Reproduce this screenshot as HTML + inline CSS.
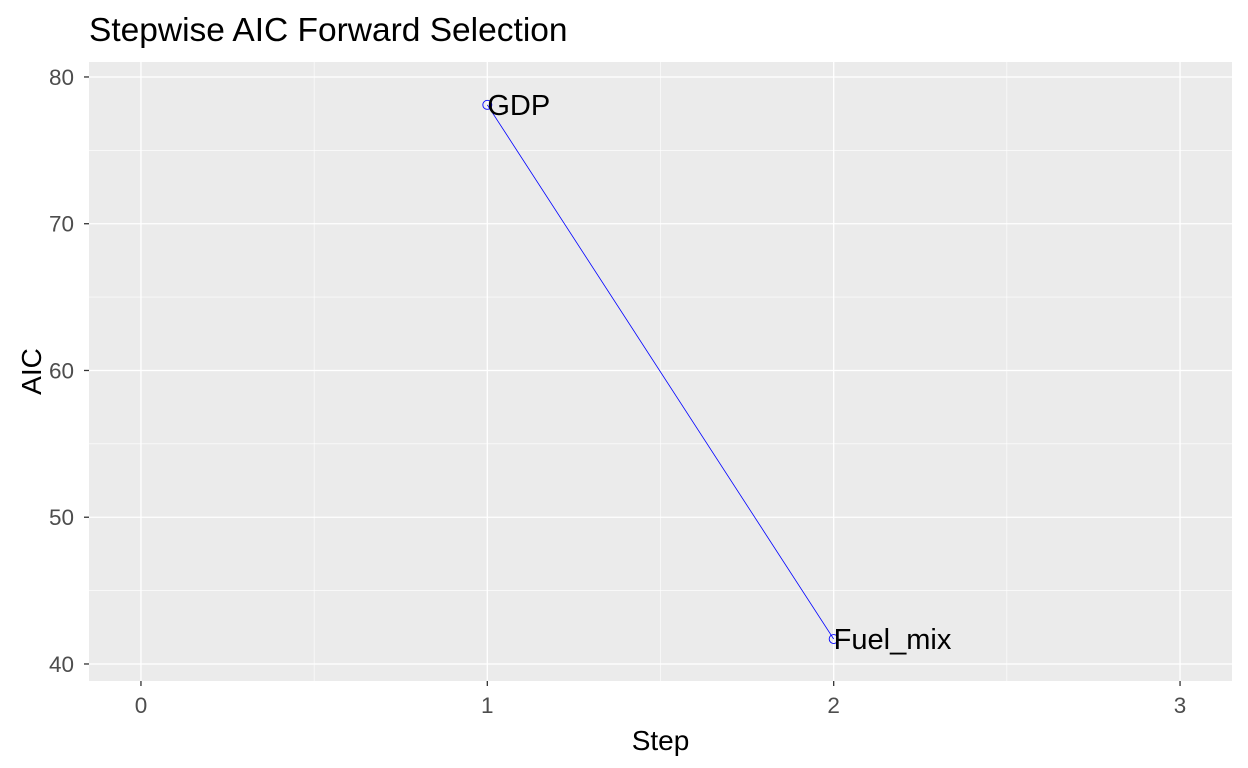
<!DOCTYPE html>
<html><head><meta charset="utf-8"><style>
html,body{margin:0;padding:0;background:#fff;}
svg{display:block;font-family:"Liberation Sans",Arial,sans-serif;}
</style></head><body>
<svg id="chart" width="1248" height="768"></svg>
<script>
const steps = [1, 2];
const aicValues = [78.1, 41.7];
const varLabels = ["GDP", "Fuel_mix"];
const xTicks = [0, 1, 2, 3];
const yTicks = [40, 50, 60, 70, 80];

const NS = "http://www.w3.org/2000/svg";
const svg = document.getElementById("chart");
const L = 89, R = 1232, T = 62, B = 681;
const xMin = -0.15, xMax = 3.15, yMin = 38.84, yMax = 81.02;
const xs = v => L + (v - xMin) / (xMax - xMin) * (R - L);
const ys = v => B - (v - yMin) / (yMax - yMin) * (B - T);
function el(tag, attrs, parent) {
  const e = document.createElementNS(NS, tag);
  for (const k in attrs) e.setAttribute(k, attrs[k]);
  (parent || svg).appendChild(e);
  return e;
}
const panel = el("rect", {x: L, y: T, width: R - L, height: B - T, fill: "#EBEBEB"});


for (let i = 0; i < xTicks.length - 1; i++) {
  const m = (xTicks[i] + xTicks[i + 1]) / 2;
  const g = el("line", {x1: xs(m), x2: xs(m), y1: T, y2: B, stroke: "#fff", "stroke-width": 0.6});
  
  
}
for (let i = 0; i < yTicks.length - 1; i++) {
  const m = (yTicks[i] + yTicks[i + 1]) / 2;
  const g = el("line", {x1: L, x2: R, y1: ys(m), y2: ys(m), stroke: "#fff", "stroke-width": 0.6});
  
  
}
xTicks.forEach(v => {
  const g = el("line", {x1: xs(v), x2: xs(v), y1: T, y2: B, stroke: "#fff", "stroke-width": 1.3});
  
  
  const tk = el("line", {x1: xs(v), x2: xs(v), y1: B, y2: B + 5, stroke: "#333", "stroke-width": 1.3});
  
  
  const t = el("text", {x: xs(v), y: B + 32, "text-anchor": "middle", "font-size": 22.5, fill: "#4D4D4D"});
  t.textContent = v;
  
  
});
yTicks.forEach(v => {
  const g = el("line", {x1: L, x2: R, y1: ys(v), y2: ys(v), stroke: "#fff", "stroke-width": 1.3});
  
  
  const tk = el("line", {x1: L - 5, x2: L, y1: ys(v), y2: ys(v), stroke: "#333", "stroke-width": 1.3});
  
  
  const t = el("text", {x: L - 15, y: ys(v) + 8, "text-anchor": "end", "font-size": 22.5, fill: "#4D4D4D"});
  t.textContent = v;
  
  
});
const pts = steps.map((s, i) => xs(s) + "," + ys(aicValues[i])).join(" ");
const line = el("polyline", {points: pts, fill: "none", stroke: "#0000FF", "stroke-width": 0.8});


steps.forEach((s, i) => {
  const c = el("circle", {cx: xs(s), cy: ys(aicValues[i]), r: 4.5, fill: "none", stroke: "#0000FF", "stroke-width": 0.9});
  
  
  const t = el("text", {x: xs(s), y: ys(aicValues[i]) + 10, "font-size": 29, fill: "#000"});
  t.textContent = varLabels[i];
  
  
});
const title = el("text", {x: 89, y: 41, "font-size": 33.5, fill: "#000"});
title.textContent = "Stepwise AIC Forward Selection";


const xt = el("text", {x: (L + R) / 2, y: 750, "text-anchor": "middle", "font-size": 28, fill: "#000"});
xt.textContent = "Step";


const yt = el("text", {x: 0, y: 0, "text-anchor": "middle", "font-size": 28, fill: "#000", transform: "translate(41," + (T + B) / 2 + ") rotate(-90)"});
yt.textContent = "AIC";


</script>
</body></html>
